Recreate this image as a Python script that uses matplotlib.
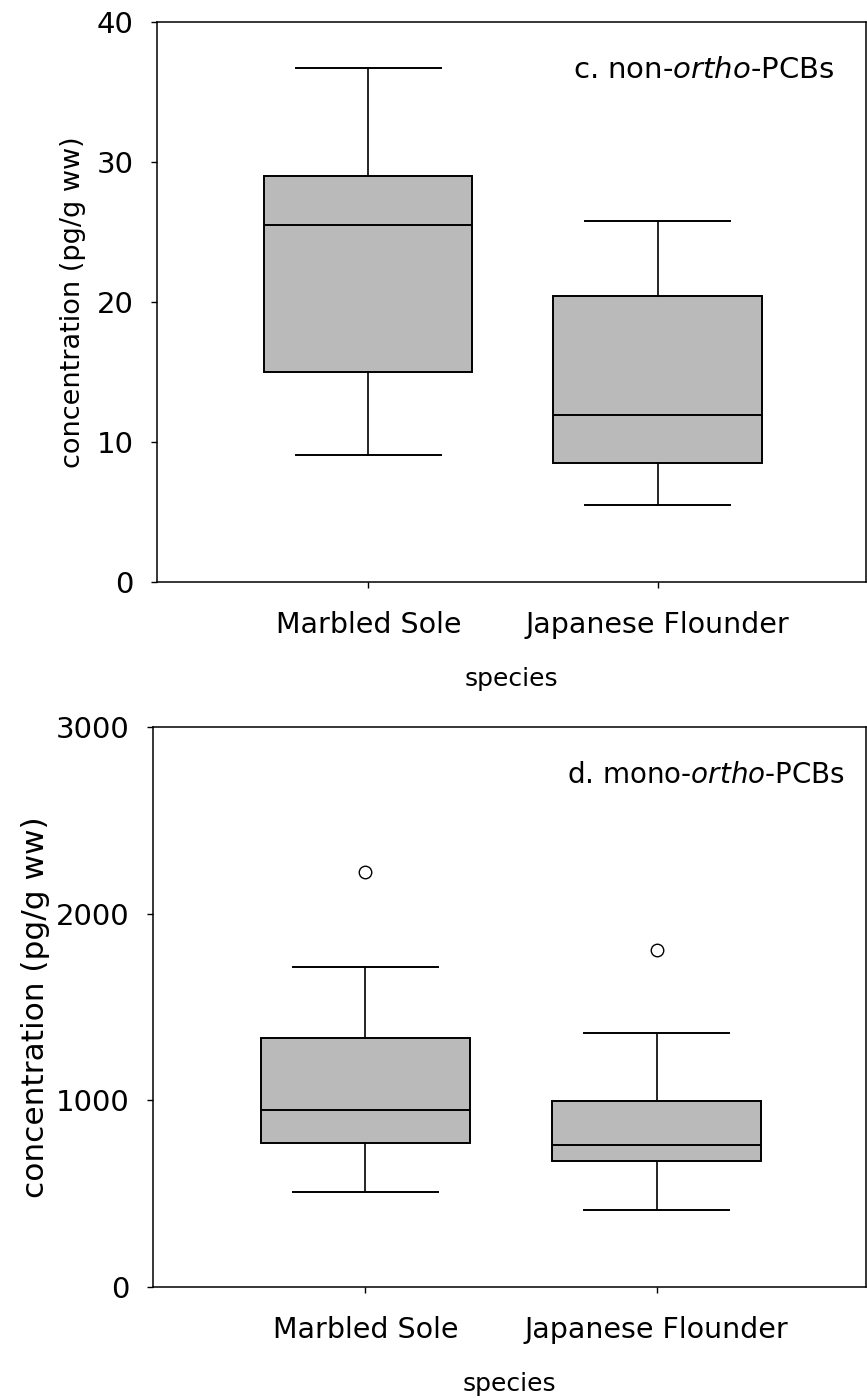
import numpy as np
import matplotlib
matplotlib.use('Agg')
import matplotlib.pyplot as plt

plt.rcParams['font.family'] = ['DejaVu Sans']
plt.rcParams['mathtext.fontset'] = 'custom'
plt.rcParams['mathtext.it'] = 'DejaVu Sans:italic'
plt.rcParams['mathtext.rm'] = 'DejaVu Sans'

# species on the x axis
species = ["Marbled Sole", "Japanese Flounder"]

# c. non-ortho-PCBs (pg/g ww)
c_whislo = [9.1, 5.5]
c_q1 = [15.0, 8.5]
c_med = [25.5, 11.9]
c_q3 = [29.0, 20.4]
c_whishi = [36.7, 25.8]
c_fliers = [[], []]

# d. mono-ortho-PCBs (pg/g ww)
d_whislo = [510, 415]
d_q1 = [770, 675]
d_med = [950, 760]
d_q3 = [1335, 995]
d_whishi = [1715, 1358]
d_fliers = [[2225], [1805]]

c_yticks = [0, 10, 20, 30, 40]
d_yticks = [0, 1000, 2000, 3000]


def make_stats(lo, q1, med, q3, hi, fl):
    stats = []
    for i in range(len(species)):
        stats.append({'whislo': lo[i], 'q1': q1[i], 'med': med[i], 'q3': q3[i],
                      'whishi': hi[i], 'fliers': fl[i], 'label': species[i]})
    return stats


def draw_panel(ax, stats, yticks, title, title_size, title_x, ylab_size, ylab_x):
    ax.bxp(stats, positions=[1, 2], widths=0.72, capwidths=0.5, patch_artist=True,
           boxprops=dict(facecolor='#bababa', edgecolor='black', linewidth=1.4),
           medianprops=dict(color='black', linewidth=1.4),
           whiskerprops=dict(color='black', linewidth=1.2),
           capprops=dict(color='black', linewidth=1.4),
           flierprops=dict(marker='o', markerfacecolor='white', markeredgecolor='black',
                           markersize=9, markeredgewidth=1.0))
    ax.set_xlim(0.27, 2.72)
    ax.set_ylim(yticks[0], yticks[-1])
    ax.set_yticks(yticks)
    ax.set_xticks([1, 2])
    ax.set_xticklabels(species, fontsize=20.5)
    ax.tick_params(axis='y', direction='out', length=4, width=1, labelsize=21, pad=13)
    ax.tick_params(axis='x', direction='out', length=4, width=1, pad=17)
    ax.set_xlabel('species', fontsize=18, labelpad=20)
    ax.set_ylabel('concentration (pg/g ww)', fontsize=ylab_size)
    ax.yaxis.set_label_coords(ylab_x, 0.5)
    for s in ax.spines.values():
        s.set_linewidth(1.1)
    ax.text(title_x, 0.915, title, transform=ax.transAxes, ha='right', va='center',
            fontsize=title_size)


fig = plt.figure(figsize=(8.67, 13.98), dpi=100)
ax1 = fig.add_axes([0.1811, 0.5837, 0.8178, 0.4006])
ax2 = fig.add_axes([0.1765, 0.0794, 0.8224, 0.4006])

draw_panel(ax1, make_stats(c_whislo, c_q1, c_med, c_q3, c_whishi, c_fliers), c_yticks,
           'c. non-$\\mathit{ortho}$-PCBs', 21, 0.955, 19.5, -0.10)
draw_panel(ax2, make_stats(d_whislo, d_q1, d_med, d_q3, d_whishi, d_fliers), d_yticks,
           'd. mono-$\\mathit{ortho}$-PCBs', 20, 0.97, 22.5, -0.145)

fig.savefig('out.png', dpi=100)
